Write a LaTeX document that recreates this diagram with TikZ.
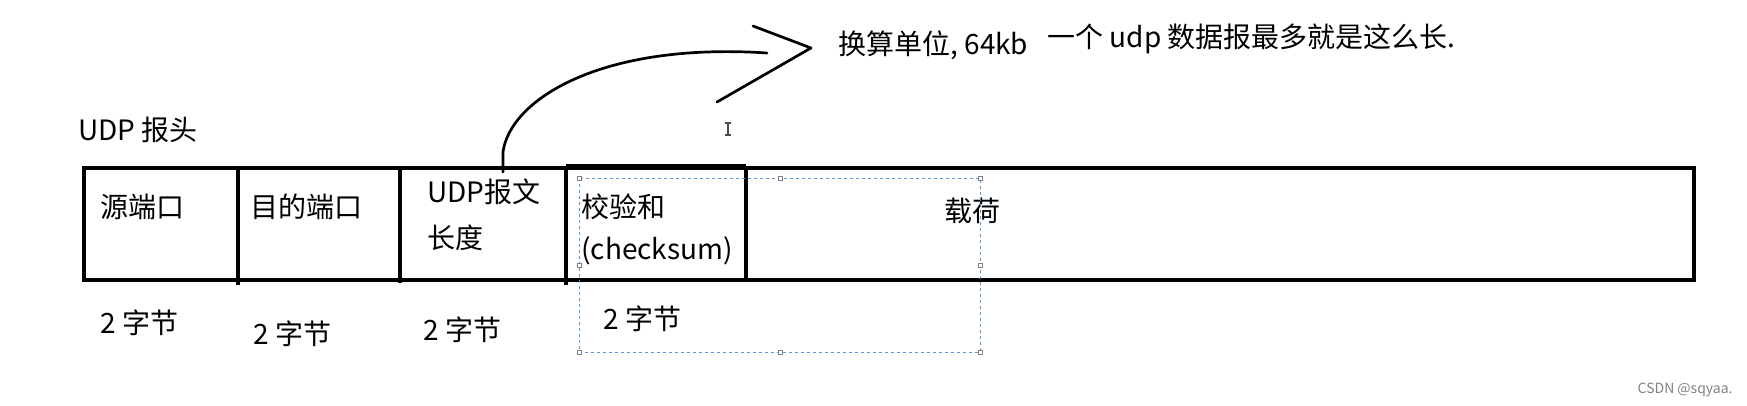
\documentclass[tikz,border=0pt]{standalone}
\usepackage{fontspec}
\setmainfont{Noto Sans CJK SC}
\begin{document}
\begin{tikzpicture}[x=0.5pt,y=-0.5pt,
  txt/.style={anchor=west,inner sep=0pt,font=\fontsize{14}{16}\selectfont},
  frame/.style={line width=2pt},
  divider/.style={line width=1.6pt},
  sel/.style={draw=cyan!60!blue!70,dashed,line width=0.4pt,dash pattern=on 1.5pt off 1.5pt},
  handle/.style={draw=gray,fill=white,line width=0.3pt,minimum size=2pt,inner sep=0pt,rectangle},
  hand/.style={line width=1.35pt,line cap=round,line join=round}]
\useasboundingbox (0,0) rectangle (1747,406);
% frame
\draw[frame] (84,168) rectangle (1694,280);
\draw[frame] (566,166) -- (746,166);
\draw[divider] (238,168) -- (238,285);
\draw[divider] (400,168) -- (400,283);
\draw[divider] (566,166) -- (566,285);
\draw[frame] (746,166) -- (746,280);
% cell anchor for the connector
\coordinate (len) at (503,172);
% texts
\node[txt] (title) at (78,130) {UDP 报头};
\node[txt] (src) at (100,207) {源端口};
\node[txt] (dst) at (250,207) {目的端口};
\node[txt] (lenA) at (427,192) {UDP报文};
\node[txt] (lenB) at (427,238) {长度};
\node[txt] (ckA) at (581,207) {校验和};
\node[txt] (ckB) at (581,251) {(checksum)};
\node[txt] (pay) at (944,211) {载荷};
\node[txt] (b1) at (100,323) {2 字节};
\node[txt] (b2) at (253,334) {2 字节};
\node[txt] (b3) at (423,330) {2 字节};
\node[txt] (b4) at (603,319) {2 字节};
\node[txt] (unit) at (838,45) {换算单位, 64kb};
\node[txt] (note) at (1047,39) {一个 udp 数据报最多就是这么长.};
\node[anchor=east,inner sep=0pt,font=\fontsize{7}{8}\selectfont,text=gray] (wm) at (1733,390) {CSDN @sqyaa.};
% hand-drawn arrow
\coordinate (cEnd) at (767,53);
\coordinate (h1) at (753,26);
\coordinate (tip) at (811,48);
\coordinate (h2) at (717,102);
\draw[hand] (len) -- (503,152) .. controls (510,100) and (600,42) .. (cEnd);
\draw[hand] (h1) -- (tip) -- (h2);
% cursor
\draw[line width=0.6pt,gray!60!black] (728,123) -- (728,135) (725,123) -- (731,123) (725,135) -- (731,135);
% selection rectangle
\draw[sel] (579,178) rectangle (980,352);
\foreach \p in {(579,178),(780,178),(980,178),(579,265),(980,265),(579,352),(780,352),(980,352)}
  \node[handle] at \p {};
\end{tikzpicture}
\end{document}
